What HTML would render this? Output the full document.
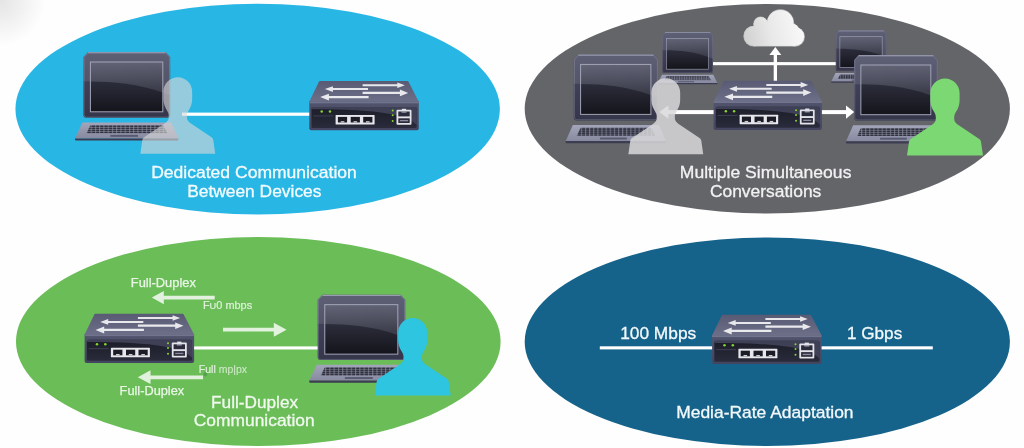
<!DOCTYPE html>
<html>
<head>
<meta charset="utf-8">
<title>Switch Features</title>
<style>
html,body{margin:0;padding:0;background:#fefefe;}
body{width:1024px;height:448px;overflow:hidden;font-family:"Liberation Sans",sans-serif;}
svg{display:block;filter:blur(0.5px);}
text{font-family:"Liberation Sans",sans-serif;}
</style>
</head>
<body>
<svg width="1024" height="448" viewBox="0 0 1024 448">
<defs>
  <!-- gradients -->
  <linearGradient id="gLid" x1="0" y1="0" x2="0" y2="1">
    <stop offset="0" stop-color="#4c4e67"/>
    <stop offset="0.5" stop-color="#3f4056"/>
    <stop offset="1" stop-color="#35364a"/>
  </linearGradient>
  <linearGradient id="gScr" x1="0" y1="0" x2="0" y2="1">
    <stop offset="0" stop-color="#3c3e4e"/>
    <stop offset="0.45" stop-color="#2a2b38"/>
    <stop offset="1" stop-color="#14141b"/>
  </linearGradient>
  <linearGradient id="gGloss" x1="0" y1="0" x2="0.15" y2="1">
    <stop offset="0" stop-color="#e4e6ff" stop-opacity="0.23"/>
    <stop offset="1" stop-color="#e4e6ff" stop-opacity="0.12"/>
  </linearGradient>
  <linearGradient id="gBase" x1="0" y1="0" x2="0" y2="1">
    <stop offset="0" stop-color="#a3a5ba"/>
    <stop offset="1" stop-color="#8789a0"/>
  </linearGradient>
  <linearGradient id="gTop" x1="0" y1="0" x2="0" y2="1">
    <stop offset="0" stop-color="#595b74"/>
    <stop offset="1" stop-color="#6d6f89"/>
  </linearGradient>
  <linearGradient id="gFront" x1="0" y1="0" x2="0" y2="1">
    <stop offset="0" stop-color="#52546d"/>
    <stop offset="1" stop-color="#434560"/>
  </linearGradient>
  <linearGradient id="gPanel" x1="0" y1="0" x2="0" y2="1">
    <stop offset="0" stop-color="#1c1d28"/>
    <stop offset="1" stop-color="#2a2b3b"/>
  </linearGradient>
  <linearGradient id="gCloud" x1="0.2" y1="0" x2="0.35" y2="1">
    <stop offset="0" stop-color="#ffffff"/>
    <stop offset="0.55" stop-color="#f1f1f1"/>
    <stop offset="1" stop-color="#cfcfcf"/>
  </linearGradient>
  <pattern id="keys" x="3" y="73.1" width="4.25" height="2.03" patternUnits="userSpaceOnUse">
    <rect width="4.25" height="2.03" fill="#30313f"/>
    <rect x="0" y="0" width="1.1" height="2.03" fill="#9799ae" opacity="0.6"/>
    <rect x="0" y="0" width="4.25" height="0.55" fill="#9799ae" opacity="0.6"/>
  </pattern>

  <!-- laptop: origin = lid top-left; lid 85.7 x 67 -->
  <g id="lid">
    <path d="M0,5 L4.6,0 H82.2 L86.8,5 V62.8 Q86.8,65.8 83.8,65.8 H3 Q0,65.8 0,62.8 Z" fill="url(#gLid)"/>
    <path d="M0.7,5.3 L4.9,0.7 H81.9 L86.1,5.3 V62.6 Q86.1,65.1 83.6,65.1 H3.2 Q0.7,65.1 0.7,62.6 Z" fill="none" stroke="#7d7f99" stroke-width="0.9" opacity="0.55"/>
    <path d="M0,5 L4.6,0 H82.2 L86.8,5 V43 C58,32.3 30,29.6 0,29.2 Z" fill="#ffffff" opacity="0.1"/>
    <rect x="7" y="10" width="72.4" height="49.8" fill="url(#gScr)"/>
    <path d="M7,10 H79.4 V40.5 C55,31.6 30,29.7 7,29.4 Z" fill="url(#gGloss)"/>
    <rect x="7" y="10" width="72.4" height="49.8" fill="none" stroke="#a3a5b8" stroke-width="1"/>
    <rect x="4.6" y="0.2" width="77.6" height="1.1" fill="#a9abc0" opacity="0.75"/>
  </g>
  <g id="lbase">
    <path d="M-1,70.5 H87.8 L95,86.6 H-8.4 Z" fill="url(#gBase)"/>
    <path d="M-8.4,86.4 H95 V87.6 Q95,88.6 93.8,88.6 H-7.2 Q-8.4,88.6 -8.4,87.6 Z" fill="#3c3d51"/>
    <path d="M7.1,73.1 H79.7 L83.8,81.2 H3 Z" fill="url(#keys)"/>
    <rect x="26.9" y="82.9" width="27.7" height="1.9" fill="#57596f"/>
  </g>
  <g id="laptop">
    <use href="#lid"/>
    <use href="#lbase"/>
  </g>
  <!-- small laptop: lid 50.7 x 40.8 -->
  <g id="slaptop">
    <g transform="scale(0.584,0.62)"><use href="#lid"/></g>
    <g transform="translate(0.26,5.2) scale(0.578,0.53)"><use href="#lbase"/></g>
  </g>

  <!-- switch: origin = (front-left x, top-face top y); 109.5 x 49.2 -->
  <g id="switch">
    <path d="M9.7,0.6 Q10,0 10.8,0 H98 Q98.8,0 99.1,0.6 L109.5,20.8 H0 Z" fill="url(#gTop)"/>
    <path d="M0,20.3 H109.5 V47.2 Q109.5,49.2 107.5,49.2 H2 Q0,49.2 0,47.2 Z" fill="url(#gFront)"/>
    <rect x="0" y="20.4" width="109.5" height="1.9" fill="#72748e"/>
    <rect x="2.2" y="26" width="105.2" height="21" rx="1.5" fill="url(#gPanel)"/>
    <path d="M2.2,27.5 Q2.2,26 3.7,26 H105.9 Q107.4,26 107.4,27.5 V44 C99,34 72,28.2 2.2,28.2 Z" fill="#474960" opacity="0.8"/>
    <!-- arrows on top -->
    <g fill="#ffffff" opacity="0.86">
      <path d="M53.3,3.2 H88 V1.4 L95.6,4.2 L88,7 V5.2 H53.3 Z"/>
      <path d="M58.7,7.1 H23.6 V5.3 L15.6,8.1 L23.6,11 V9.1 H58.7 Z"/>
      <path d="M53.3,10.8 H90.6 V8.6 L98.9,11.9 L90.6,15.2 V13 H53.3 Z"/>
      <path d="M59.3,15 H19.6 V12.7 L10.9,16.1 L19.6,19.6 V17.3 H59.3 Z"/>
    </g>
    <!-- leds -->
    <circle cx="12.4" cy="30.5" r="1.25" fill="#86d630"/>
    <circle cx="20.7" cy="30.5" r="1.25" fill="#86d630"/>
    <rect x="4" y="34.6" width="20" height="0.7" fill="#4a4c62"/>
    <!-- 3 ports -->
    <rect x="26.3" y="34" width="39" height="9.5" rx="0.6" fill="#e6e6ec"/>
    <rect x="28.6" y="35.9" width="9.2" height="5.6" fill="#1b1c26"/>
    <rect x="41.4" y="35.9" width="9.2" height="5.6" fill="#1b1c26"/>
    <rect x="53.9" y="35.9" width="9.2" height="5.6" fill="#1b1c26"/>
    <rect x="31.4" y="40.2" width="3.6" height="1.3" fill="#cfcfd8"/>
    <rect x="44.2" y="40.2" width="3.6" height="1.3" fill="#cfcfd8"/>
    <rect x="56.7" y="40.2" width="3.6" height="1.3" fill="#cfcfd8"/>
    <!-- right leds -->
    <circle cx="83.4" cy="29.5" r="1" fill="#86d630"/>
    <circle cx="83.4" cy="34.2" r="1" fill="#86d630"/>
    <circle cx="83.4" cy="40" r="1" fill="#86d630"/>
    <!-- stacked ports -->
    <rect x="87.2" y="28.7" width="15" height="15.1" rx="1" fill="#e2e2e8"/>
    <rect x="92.6" y="27.8" width="4.2" height="1.6" fill="#e2e2e8"/>
    <rect x="89" y="30.5" width="11.4" height="4.9" fill="#2b2c3b"/>
    <rect x="89" y="37.3" width="11.4" height="4.7" fill="#2b2c3b"/>
    <rect x="92.2" y="30.2" width="5" height="1.5" fill="#9fa1b2"/>
    <rect x="90.6" y="39" width="8.2" height="1.3" fill="#8a8c9e"/>
  </g>

  <!-- person: origin = head top centre -->
  <path id="person" d="M-38,77.4 L-36,63.5 Q-35.7,61.3 -33.5,60.2 L-13,46.5 Q-9.2,44 -9.2,40.5 V38.5 Q-9.2,36 -11,33.5 Q-14.6,28 -14.6,22 V14.6 C-14.6,6.5 -8,0 0,0 C8,0 14.6,6.5 14.6,14.6 V22 Q14.6,28 11,33.5 Q9.2,36 9.2,38.5 V40.5 Q9.2,44 13,46.5 L33.5,60.2 Q35.7,61.3 36,63.5 L38,77.4 Z"/>

  <!-- cloud : origin = bbox top-left, 60.3 x 36.2 -->
  <g id="cloudshape">
    <circle cx="10" cy="26.1" r="10"/>
    <circle cx="16.8" cy="14.2" r="7.1"/>
    <ellipse cx="36.3" cy="13" rx="13.2" ry="12.9"/>
    <circle cx="49.4" cy="19.6" r="5.1"/>
    <circle cx="50.7" cy="26.7" r="9.5"/>
    <rect x="10" y="14" width="40.7" height="22.1"/>
  </g>
  <clipPath id="cloudclip"><use href="#cloudshape"/></clipPath>
  <linearGradient id="gCloudBase" gradientUnits="userSpaceOnUse" x1="2" y1="34" x2="58" y2="20">
    <stop offset="0" stop-color="#d0d0d0"/>
    <stop offset="0.45" stop-color="#e8e8e8"/>
    <stop offset="1" stop-color="#f8f8f8"/>
  </linearGradient>
  <g id="cloud">
    <g transform="translate(30.15,18.1) scale(1.022,1.035) translate(-30.15,-18.1)" fill="#b9b9bb"><use href="#cloudshape"/></g>
    <g fill="url(#gCloudBase)"><use href="#cloudshape"/></g>
    <g clip-path="url(#cloudclip)">
      <path d="M-2,-2 H63 V31 C45,22 20,19.5 -2,24 Z" fill="#ffffff" opacity="0.72"/>
    </g>
  </g>
</defs>

<rect width="1024" height="448" fill="#fefefe"/>
<radialGradient id="gCorner" gradientUnits="userSpaceOnUse" cx="0" cy="0" r="46">
  <stop offset="0" stop-color="#e4e4e4"/>
  <stop offset="1" stop-color="#fefefe"/>
</radialGradient>
<rect width="80" height="80" fill="url(#gCorner)"/>

<!-- ========== ellipse 1 : blue ========== -->
<ellipse cx="257.65" cy="109.1" rx="242.2" ry="105.3" fill="#28b6e4"/>
<rect x="182" y="112.6" width="128" height="3.2" fill="#ffffff"/>
<use href="#laptop" x="83.4" y="52"/>
<g transform="translate(177.8,77.3) scale(0.985,0.988)"><use href="#person" fill="#d9d9d9" opacity="0.62"/></g>
<use href="#switch" x="309.3" y="81"/>
<g fill="#f4fbfe" stroke="#f4fbfe" font-size="16.7" text-anchor="middle" stroke-width="0.3">
  <text x="254" y="178.1" textLength="205.6" lengthAdjust="spacingAndGlyphs">Dedicated Communication</text>
  <text x="254.3" y="197.2" textLength="134.3" lengthAdjust="spacingAndGlyphs">Between Devices</text>
</g>

<!-- ========== ellipse 2 : grey ========== -->
<ellipse cx="767.3" cy="108.8" rx="242.6" ry="104.8" fill="#636569"/>
<!-- lines -->
<rect x="712" y="62.1" width="126" height="3.1" fill="#ffffff"/>
<rect x="773.7" y="54" width="3.3" height="28" fill="#ffffff"/>
<path d="M775.35,47 L781.3,55 H769.4 Z" fill="#ffffff"/>
<rect x="666" y="110.1" width="48" height="4" fill="#ffffff"/>
<path d="M659.3,112.1 L668.4,105.4 V118.8 Z" fill="#ffffff"/>
<rect x="821" y="110.1" width="26" height="4" fill="#ffffff"/>
<path d="M854.2,112.1 L846,105.5 V118.7 Z" fill="#ffffff"/>
<!-- cloud -->
<use href="#cloud" x="744" y="9.8"/>
<!-- small laptops -->
<use href="#slaptop" x="662.3" y="32.1"/>
<use href="#slaptop" x="835.8" y="30.5"/>
<!-- big laptops -->
<g transform="translate(573.8,54.4) scale(0.971,1.003)"><use href="#laptop"/></g>
<g transform="translate(854.1,55) scale(0.966,0.998)"><use href="#laptop"/></g>
<g transform="translate(713.6,80.7) scale(0.989,1)"><use href="#switch"/></g>
<g transform="translate(665.8,78.2) scale(0.985,0.983)"><use href="#person" fill="#d8d8da" opacity="0.85"/></g>
<g transform="translate(945,78.5) scale(1,0.995)"><use href="#person" fill="#7bd873"/></g>
<g fill="#f2f2f2" stroke="#f2f2f2" font-size="16.7" text-anchor="middle" stroke-width="0.3">
  <text x="765.6" y="178.1" textLength="171.6" lengthAdjust="spacingAndGlyphs">Multiple Simultaneous</text>
  <text x="765.6" y="197" textLength="111.4" lengthAdjust="spacingAndGlyphs">Conversations</text>
</g>

<!-- ========== ellipse 3 : green ========== -->
<ellipse cx="258.3" cy="341.5" rx="242.3" ry="104.5" fill="#6abd57"/>
<rect x="193" y="346.4" width="125" height="3.1" fill="#ffffff"/>
<use href="#switch" x="84.6" y="313.8"/>
<g transform="translate(317.7,294.7) scale(1.009,0.994)"><use href="#laptop"/></g>
<use href="#person" x="412.7" y="318" fill="#2ec5e1"/>
<!-- arrows -->
<g fill="#ffffff" opacity="0.8">
  <path d="M151.8,297.6 L163.8,291 V295.8 H214.7 V299.5 H163.8 V304.3 Z"/>
  <path d="M286.6,329.7 L273.8,322.7 V327.8 H223 V331.6 H273.8 V336.7 Z"/>
  <path d="M137.8,377.2 L150.5,370.2 V375.4 H203 V379.2 H150.5 V384.1 Z"/>
</g>
<ellipse cx="205.3" cy="374.3" rx="1.9" ry="2.1" fill="#4d9f49" opacity="0.85"/>
<g fill="#ffffff" stroke="#ffffff" stroke-width="0.25" opacity="0.86" font-size="12.2">
  <text x="130.8" y="287.3" textLength="65.1" lengthAdjust="spacingAndGlyphs">Full-Duplex</text>
  <text x="119.6" y="395.3" textLength="64.6" lengthAdjust="spacingAndGlyphs">Full-Duplex</text>
</g>
<g fill="#ffffff" stroke="#ffffff" stroke-width="0.2" opacity="0.78" font-size="10.4">
  <text x="202.9" y="308.7" textLength="49.2" lengthAdjust="spacingAndGlyphs">F<tspan font-size="8.8">U</tspan>0 mbps</text>
  <text x="198.8" y="372.5" font-size="10.9" textLength="48.3" lengthAdjust="spacingAndGlyphs"><tspan fill-opacity="1" stroke-opacity="1">Full</tspan><tspan fill-opacity="0.82" stroke-opacity="0.5"> mp|px</tspan></text>
</g>
<g fill="#f1f9ef" stroke="#f1f9ef" font-size="16.7" text-anchor="middle" stroke-width="0.3">
  <text x="254.6" y="407.5" textLength="87.1" lengthAdjust="spacingAndGlyphs">Full-Duplex</text>
  <text x="254.2" y="426.1" textLength="120.8" lengthAdjust="spacingAndGlyphs">Communication</text>
</g>

<!-- ========== ellipse 4 : dark blue ========== -->
<ellipse cx="767.3" cy="341.7" rx="242.6" ry="104.3" fill="#15638a"/>
<rect x="599.8" y="346.3" width="333" height="3.1" fill="#ffffff"/>
<use href="#switch" x="712.1" y="314.8"/>
<g fill="#f3f8fb" font-size="16.7" stroke="#f3f8fb" stroke-width="0.3">
  <text x="620.2" y="338.7" textLength="76" lengthAdjust="spacingAndGlyphs">100 Mbps</text>
  <text x="847" y="338.7" textLength="55.2" lengthAdjust="spacingAndGlyphs">1 Gbps</text>
</g>
<g fill="#f3f8fb" stroke="#f3f8fb" font-size="16.7" text-anchor="middle" stroke-width="0.3">
  <text x="764.9" y="417.6" textLength="177.4" lengthAdjust="spacingAndGlyphs">Media-Rate Adaptation</text>
</g>
</svg>
</body>
</html>
